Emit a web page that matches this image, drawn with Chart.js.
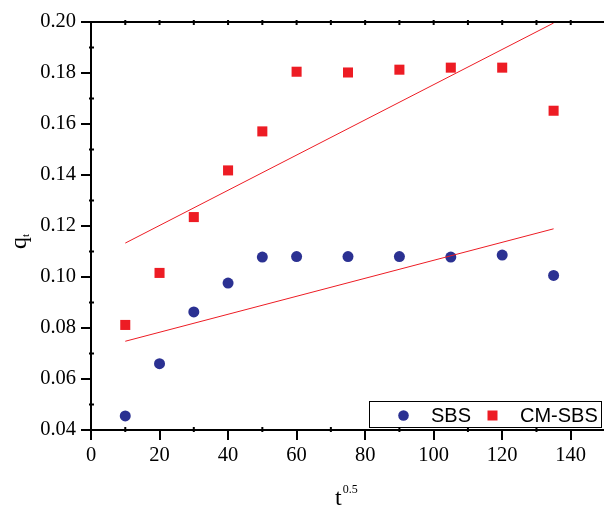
<!DOCTYPE html>
<html>
<head>
<meta charset="utf-8">
<script src="https://cdn.jsdelivr.net/npm/chart.js@4.4.0/dist/chart.umd.min.js"></script>
<style>
  html, body { margin: 0; padding: 0; background: #fff; overflow: hidden; }
  #wrap { position: relative; width: 620px; height: 509px; }
</style>
</head>
<body>
<div id="wrap"><canvas id="c" width="620" height="509"></canvas></div>
<script>
// ---- data ----
const xValues   = [10, 20, 30, 40, 50, 60, 75, 90, 105, 120, 135];
const sbsValues = [0.0455, 0.0660, 0.0863, 0.0976, 0.1078, 0.1080, 0.1080, 0.1080, 0.1078, 0.1086, 0.1006];
const cmValues  = [0.0812, 0.1016, 0.1235, 0.1418, 0.1571, 0.1805, 0.1802, 0.1813, 0.1821, 0.1821, 0.1652];
const fitX      = [10, 135];
const sbsFit    = [0.0748, 0.1189];
const cmFit     = [0.1133, 0.1996];
const xTicks    = [0, 20, 40, 60, 80, 100, 120, 140];
const yTicks    = [0.04, 0.06, 0.08, 0.10, 0.12, 0.14, 0.16, 0.18, 0.20];
const xMinor    = [10, 30, 50, 70, 90, 110, 130, 150];
const yMinor    = [0.05, 0.07, 0.09, 0.11, 0.13, 0.15, 0.17, 0.19];
const seriesNames = ['SBS', 'CM-SBS'];

const BLUE = '#2b3192';
const RED  = '#ed1c24';
const SERIF = "Liberation Serif";
const SANS  = "Liberation Sans";

Chart.defaults.font.family = SERIF;
Chart.defaults.font.size = 20.5;
Chart.defaults.color = '#000';

const pts = (xs, ys) => xs.map((x, i) => ({ x: x, y: ys[i] }));

const decor = {
  id: 'decor',
  afterDraw(chart) {
    const ctx = chart.ctx;
    const xs = chart.scales.x, ys = chart.scales.y;
    const a = chart.chartArea;
    ctx.save();
    ctx.strokeStyle = '#000';
    ctx.lineWidth = 2;
    // top mirror axis
    ctx.beginPath();
    ctx.moveTo(a.left - 1, a.top);
    ctx.lineTo(a.right, a.top);
    ctx.stroke();
    // top axis tick marks (every 10)
    for (let v = 10; v <= 150; v += 10) {
      const px = xs.getPixelForValue(v);
      ctx.beginPath(); ctx.moveTo(px, a.top - 2); ctx.lineTo(px, a.top + 3); ctx.stroke();
    }
    // minor ticks on x and y
    xMinor.forEach(v => {
      const px = xs.getPixelForValue(v);
      ctx.beginPath(); ctx.moveTo(px, a.bottom - 3); ctx.lineTo(px, a.bottom + 2); ctx.stroke();
    });
    yMinor.forEach(v => {
      const py = ys.getPixelForValue(v);
      ctx.beginPath(); ctx.moveTo(a.left - 2, py); ctx.lineTo(a.left + 3, py); ctx.stroke();
    });
    // axis titles
    ctx.fillStyle = '#000';
    ctx.textBaseline = 'alphabetic';
    ctx.textAlign = 'left';
    // x title: t^0.5
    ctx.font = '24px "' + SERIF + '"';
    const tx = 335, ty = 505;
    ctx.fillText('t', tx, ty);
    const tw = ctx.measureText('t').width;
    ctx.font = '12px "' + SERIF + '"';
    ctx.fillText('0.5', tx + tw + 1, ty - 12);
    // y title: q_t (rotated)
    ctx.save();
    ctx.translate(26, 249);
    ctx.rotate(-Math.PI / 2);
    ctx.font = '24px "' + SERIF + '"';
    ctx.fillText('q', 0, 0);
    const qw = ctx.measureText('q').width;
    ctx.font = '11px "' + SERIF + '"';
    ctx.fillText('t', qw, 3);
    ctx.restore();

    // legend box
    const lx = 369, ly = 401, lw = 232, lh = 26;
    ctx.lineWidth = 1;
    ctx.fillStyle = '#fff';
    ctx.fillRect(lx, ly, lw, lh);
    ctx.strokeRect(lx + 0.5, ly + 0.5, lw, lh);
    const cy = ly + 14.5;
    ctx.fillStyle = BLUE;
    ctx.beginPath(); ctx.arc(403.5, cy, 5.3, 0, Math.PI * 2); ctx.fill();
    ctx.fillStyle = RED;
    ctx.fillRect(487.5, cy - 5, 10, 10);
    ctx.fillStyle = '#000';
    ctx.font = '20px "' + SANS + '"';
    ctx.textBaseline = 'middle';
    ctx.fillText(seriesNames[0], 431, cy + 1);
    ctx.fillText(seriesNames[1], 520, cy + 1);
    ctx.restore();
  }
};

new Chart(document.getElementById('c'), {
  type: 'scatter',
  data: {
    datasets: [
      { label: seriesNames[0] + ' fit', data: pts(fitX, sbsFit), showLine: true, borderColor: RED, borderWidth: 1, pointRadius: 0, fill: false },
      { label: seriesNames[1] + ' fit', data: pts(fitX, cmFit), showLine: true, borderColor: RED, borderWidth: 1, pointRadius: 0, fill: false },
      { label: seriesNames[0], data: pts(xValues, sbsValues), pointStyle: 'circle', pointRadius: 5.5, backgroundColor: BLUE, borderColor: BLUE, borderWidth: 0 },
      { label: seriesNames[1], data: pts(xValues, cmValues), pointStyle: 'rect', pointRadius: 7.1, backgroundColor: RED, borderColor: RED, borderWidth: 0 }
    ]
  },
  options: {
    responsive: false,
    animation: false,
    devicePixelRatio: 1,
    layout: { padding: { left: 0, top: 22, right: 15, bottom: 0 } },
    plugins: { legend: { display: false }, tooltip: { enabled: false } },
    scales: {
      x: {
        type: 'linear', min: 0, max: 150,
        afterFit: s => { s.height = 79; },
        afterBuildTicks: s => { s.ticks = xTicks.map(v => ({ value: v })); },
        grid: { drawOnChartArea: false, drawTicks: true, tickLength: 10, color: '#000', lineWidth: 2 },
        border: { display: true, color: '#000', width: 2 },
        ticks: { color: '#000', font: { family: SERIF, size: 20.5 }, padding: 3, maxRotation: 0, autoSkip: false },
        title: { display: false }
      },
      y: {
        type: 'linear', min: 0.04, max: 0.20,
        afterFit: s => { s.width = 91; },
        afterBuildTicks: s => { s.ticks = yTicks.map(v => ({ value: v })); },
        grid: { drawOnChartArea: false, drawTicks: true, tickLength: 10, color: '#000', lineWidth: 2 },
        border: { display: true, color: '#000', width: 2 },
        ticks: { color: '#000', font: { family: SERIF, size: 20.5 }, padding: 5, autoSkip: false, callback: v => Number(v).toFixed(2) },
        title: { display: false }
      }
    }
  },
  plugins: [decor]
});
</script>
</body>
</html>
